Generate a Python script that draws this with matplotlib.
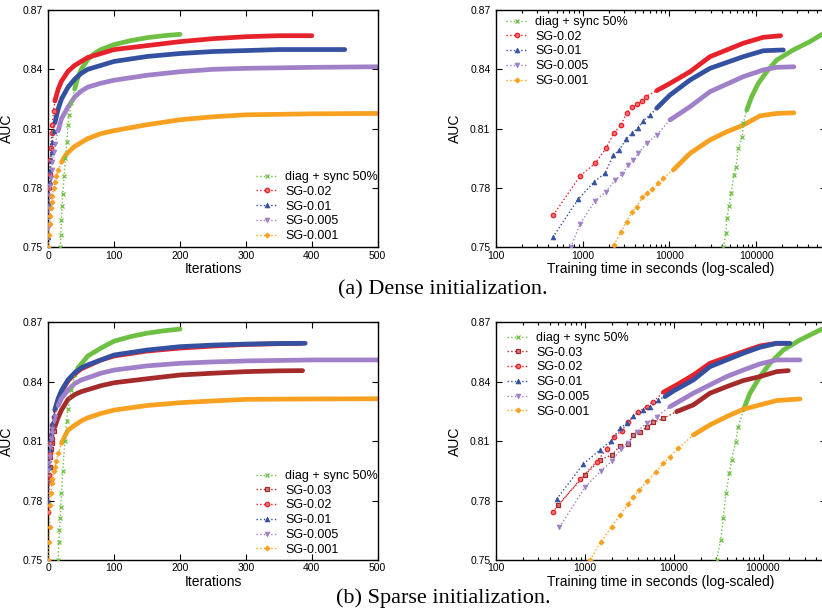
import matplotlib
matplotlib.use("Agg")
import matplotlib.pyplot as plt
from matplotlib.lines import Line2D
from matplotlib.ticker import LogLocator, NullFormatter, FixedLocator

# ---------------- data ----------------
ytick_vals = [0.75, 0.78, 0.81, 0.84, 0.87]
ytick_labels = ["0.75", "0.78", "0.81", "0.84", "0.87"]
iter_ticks = [0, 100, 200, 300, 400, 500]
time_ticks = [100, 1000, 10000, 100000]
time_tick_labels = ["100", "1000", "10000", "100000"]

labels_dense = ["diag + sync 50%", "SG-0.02", "SG-0.01", "SG-0.005", "SG-0.001"]
labels_sparse = ["diag + sync 50%", "SG-0.03", "SG-0.02", "SG-0.01", "SG-0.005", "SG-0.001"]

# (a) Dense initialization, AUC vs iterations
dense_it_green_x = [18, 19, 20, 21, 22, 24, 26, 28, 30, 32, 35, 40, 45, 50, 60, 70, 80, 100, 125, 150, 175, 200]
dense_it_green_y = [0.750, 0.756, 0.764, 0.771, 0.777, 0.786, 0.795, 0.803, 0.812, 0.817, 0.823, 0.830, 0.836, 0.840,
                    0.845, 0.848, 0.850, 0.8525, 0.8545, 0.856, 0.857, 0.8577]
dense_it_sg002_x = [0, 1, 2, 3, 4, 5, 6, 8, 10, 15, 20, 30, 40, 50, 60, 80, 100, 150, 200, 250, 300, 350, 400]
dense_it_sg002_y = [0.766, 0.780, 0.787, 0.794, 0.800, 0.808, 0.812, 0.819, 0.824, 0.830, 0.834, 0.839, 0.842, 0.844,
                    0.846, 0.848, 0.850, 0.852, 0.854, 0.8555, 0.8565, 0.857, 0.857]
dense_it_sg001_x = [0, 1, 2, 3, 4, 5, 6, 8, 10, 15, 20, 30, 40, 50, 60, 80, 100, 150, 200, 250, 300, 350, 400, 450]
dense_it_sg001_y = [0.755, 0.772, 0.783, 0.789, 0.794, 0.798, 0.803, 0.809, 0.813, 0.820, 0.825, 0.831, 0.835, 0.838,
                    0.840, 0.842, 0.844, 0.8465, 0.848, 0.849, 0.8495, 0.850, 0.850, 0.850]
dense_it_sg0005_x = [0, 1, 2, 3, 4, 5, 6, 8, 10, 15, 20, 30, 40, 50, 60, 80, 100, 150, 200, 250, 300, 400, 500]
dense_it_sg0005_y = [0.760, 0.770, 0.776, 0.781, 0.785, 0.789, 0.793, 0.798, 0.802, 0.809, 0.815, 0.821, 0.826, 0.829,
                     0.831, 0.833, 0.8345, 0.837, 0.8388, 0.840, 0.8405, 0.841, 0.8413]
dense_it_sg0001_x = [0, 1, 2, 3, 4, 5, 6, 8, 10, 12, 15, 20, 25, 30, 40, 50, 60, 80, 100, 150, 200, 250, 300, 400, 500]
dense_it_sg0001_y = [0.750, 0.756, 0.762, 0.766, 0.770, 0.773, 0.776, 0.780, 0.783, 0.786, 0.789, 0.793, 0.796, 0.798,
                     0.801, 0.803, 0.805, 0.8075, 0.809, 0.812, 0.8145, 0.816, 0.817, 0.8175, 0.8177]

# (a) Dense initialization, AUC vs training time (s)
dense_t_green_x = [41900, 45000, 45800, 49100, 51400, 55600, 58600, 62400, 69300, 71200, 78000, 89000, 106000,
                   132500, 172600, 268500, 418000, 575000]
dense_t_green_y = [0.750, 0.757, 0.7646, 0.7709, 0.7776, 0.7865, 0.7907, 0.800, 0.8059, 0.8127, 0.8194, 0.8262,
                   0.8329, 0.8388, 0.8447, 0.8498, 0.854, 0.8577]
dense_t_sg002_x = [458, 931, 1387, 1857, 2297, 2766, 3213, 3733, 4266, 4868, 5327, 7135, 10160, 17290, 29400,
                   71200, 121000, 192000]
dense_t_sg002_y = [0.7663, 0.786, 0.7924, 0.800, 0.808, 0.8118, 0.818, 0.821, 0.8223, 0.824, 0.8262, 0.8292,
                   0.8329, 0.8388, 0.8464, 0.8532, 0.8562, 0.857]
dense_t_sg001_x = [451, 889, 1360, 1807, 2254, 2644, 3162, 3675, 4306, 5000, 5973, 7130, 10160, 17290, 29400,
                   71200, 121000, 206000]
dense_t_sg001_y = [0.755, 0.7744, 0.7832, 0.7874, 0.7965, 0.7992, 0.8046, 0.8076, 0.8102, 0.814, 0.8169, 0.8203,
                   0.827, 0.8346, 0.8405, 0.8464, 0.8494, 0.8498]
dense_t_sg0005_x = [727, 931, 1387, 1857, 2360, 2866, 3360, 3836, 4378, 5470, 7130, 10160, 17290, 29400, 71200,
                    121000, 172600, 273000]
dense_t_sg0005_y = [0.750, 0.7617, 0.7734, 0.7781, 0.784, 0.787, 0.7916, 0.7941, 0.7975, 0.8026, 0.8068, 0.8144,
                    0.8211, 0.8287, 0.8363, 0.8397, 0.841, 0.8413]
dense_t_sg0001_x = [2297, 2742, 3213, 3675, 4194, 4868, 5560, 6250, 7450, 8510, 11100, 17290, 29400, 45800, 71200,
                    111000, 172600, 273000]
dense_t_sg0001_y = [0.7511, 0.7576, 0.763, 0.7677, 0.7705, 0.7753, 0.7776, 0.7793, 0.7823, 0.7849, 0.7891, 0.7975,
                    0.8043, 0.8084, 0.8118, 0.8165, 0.8177, 0.818]

# (b) Sparse initialization, AUC vs iterations
sparse_it_green_x = [15, 16, 17, 18, 19, 20, 22, 25, 28, 30, 35, 40, 45, 50, 60, 70, 80, 100, 125, 150, 175, 200]
sparse_it_green_y = [0.750, 0.759, 0.765, 0.771, 0.777, 0.784, 0.795, 0.810, 0.820, 0.826, 0.836, 0.843, 0.847,
                     0.849, 0.853, 0.855, 0.857, 0.8605, 0.8628, 0.8645, 0.8657, 0.8666]
sparse_it_sg003_x = [0, 1, 2, 3, 4, 5, 6, 8, 10, 15, 20, 30, 40, 50, 60, 80, 100, 150, 200, 250, 300, 350, 386]
sparse_it_sg003_y = [0.778, 0.790, 0.797, 0.802, 0.806, 0.809, 0.811, 0.815, 0.8173, 0.822, 0.8257, 0.8311, 0.8335,
                     0.835, 0.836, 0.838, 0.8395, 0.8415, 0.8434, 0.8443, 0.8451, 0.8455, 0.8456]
sparse_it_sg002_x = [0, 1, 2, 3, 4, 5, 6, 8, 10, 15, 20, 30, 40, 50, 60, 80, 100, 150, 200, 250, 300, 350, 385]
sparse_it_sg002_y = [0.774, 0.793, 0.804, 0.809, 0.813, 0.816, 0.818, 0.822, 0.8255, 0.831, 0.835, 0.8405, 0.844,
                     0.8465, 0.848, 0.851, 0.853, 0.8555, 0.857, 0.858, 0.8588, 0.8592, 0.8594]
sparse_it_sg001_x = [0, 1, 2, 3, 4, 5, 6, 8, 10, 15, 20, 30, 40, 50, 60, 80, 100, 150, 200, 250, 300, 350, 390]
sparse_it_sg001_y = [0.780, 0.797, 0.806, 0.811, 0.814, 0.817, 0.819, 0.823, 0.826, 0.8315, 0.8355, 0.841, 0.8445,
                     0.847, 0.8485, 0.851, 0.8535, 0.856, 0.8577, 0.8585, 0.859, 0.8593, 0.8594]
sparse_it_sg0005_x = [0, 1, 2, 3, 4, 5, 6, 8, 10, 15, 20, 30, 40, 50, 60, 80, 100, 150, 200, 250, 300, 400, 500]
sparse_it_sg0005_y = [0.7954, 0.799, 0.8022, 0.807, 0.811, 0.814, 0.816, 0.820, 0.8224, 0.828, 0.8316, 0.8358,
                      0.839, 0.8409, 0.842, 0.8443, 0.8459, 0.848, 0.8493, 0.850, 0.8505, 0.851, 0.851]
sparse_it_sg0001_x = [0, 1, 2, 3, 4, 5, 6, 8, 10, 12, 15, 20, 25, 30, 40, 50, 60, 80, 100, 150, 200, 250, 300, 400, 500]
sparse_it_sg0001_y = [0.750, 0.7593, 0.7668, 0.7778, 0.784, 0.7887, 0.791, 0.795, 0.7971, 0.800, 0.8039, 0.8089,
                      0.8125, 0.8156, 0.818, 0.8202, 0.8218, 0.824, 0.8257, 0.828, 0.8294, 0.8303, 0.8311, 0.8313,
                      0.8314]

# (b) Sparse initialization, AUC vs training time (s)
sparse_t_green_x = [30300, 33650, 36060, 38640, 42170, 44790, 49660, 53200, 60500, 71900, 93300, 120800, 170600,
                    263000, 464000]
sparse_t_green_y = [0.750, 0.7601, 0.7711, 0.7837, 0.7938, 0.8005, 0.8098, 0.8173, 0.8257, 0.8342, 0.8426, 0.8493,
                    0.856, 0.8611, 0.8666]
sparse_t_sg003_x = [502, 1003, 1479, 2000, 2483, 3080, 3447, 4167, 4955, 5890, 7630, 10770, 16600, 25500, 39300,
                    60500, 93300, 143600, 194000]
sparse_t_sg003_y = [0.7778, 0.793, 0.8005, 0.803, 0.8076, 0.8084, 0.8131, 0.8148, 0.817, 0.8195, 0.8215, 0.8249,
                    0.8283, 0.8342, 0.8375, 0.8406, 0.8426, 0.8451, 0.8456]
sparse_t_sg002_x = [434, 881, 1355, 1757, 2124, 2612, 3080, 3994, 4955, 5890, 7630, 10770, 16600, 25500, 60500,
                    93300, 143600, 186000]
sparse_t_sg002_y = [0.7741, 0.7907, 0.7997, 0.8059, 0.8123, 0.8153, 0.8199, 0.8249, 0.8274, 0.830, 0.8347, 0.8384,
                    0.8434, 0.8493, 0.8552, 0.8581, 0.8594, 0.8594]
sparse_t_sg001_x = [481, 960, 1479, 1967, 2483, 2951, 3508, 4545, 5400, 6700, 7960, 9890, 16600, 25500, 60500,
                    93300, 143600, 202800]
sparse_t_sg001_y = [0.7807, 0.7985, 0.8056, 0.8101, 0.8165, 0.819, 0.8227, 0.8257, 0.8271, 0.8308, 0.8325, 0.8353,
                    0.8409, 0.8476, 0.8544, 0.8574, 0.8594, 0.8594]
sparse_t_sg0005_x = [516, 1003, 1517, 2037, 2549, 3080, 3820, 4955, 6410, 9060, 16600, 25500, 39300, 60500, 93300,
                     143600, 263000]
sparse_t_sg0005_y = [0.7665, 0.7867, 0.7951, 0.8002, 0.8059, 0.8089, 0.8148, 0.819, 0.8224, 0.8274, 0.8342, 0.8384,
                     0.8426, 0.8459, 0.849, 0.851, 0.851]
sparse_t_sg0001_x = [1141, 1503, 2000, 2483, 3080, 3508, 4093, 5040, 6250, 7630, 9060, 11240, 16600, 25500, 39300,
                     60500, 93300, 143600, 263000]
sparse_t_sg0001_y = [0.750, 0.7589, 0.7669, 0.7727, 0.7783, 0.782, 0.7854, 0.7899, 0.7943, 0.7988, 0.8022, 0.8064,
                     0.8131, 0.8182, 0.8224, 0.8261, 0.8283, 0.8305, 0.8313]

# ---------------- style ----------------
C_GREEN = "#6ec044"
C_RED = "#e8222a"
C_BLUE = "#3450a0"
C_PURPLE = "#a080c8"
C_ORANGE = "#f8a020"
C_DRED = "#a52a2a"

STY = {
    "diag + sync 50%": dict(color=C_GREEN, marker="x", ms=3, mew=0.9, mfc=C_GREEN),
    "SG-0.03": dict(color=C_DRED, marker="s", ms=3.0, mew=0.9, mfc="#d08080"),
    "SG-0.02": dict(color=C_RED, marker="o", ms=3.2, mew=0.9, mfc="#f07070"),
    "SG-0.01": dict(color=C_BLUE, marker="^", ms=3.5, mew=0.5, mfc=C_BLUE),
    "SG-0.005": dict(color=C_PURPLE, marker="v", ms=3.5, mew=0.5, mfc=C_PURPLE),
    "SG-0.001": dict(color=C_ORANGE, marker="D", ms=2.7, mew=0.5, mfc=C_ORANGE),
}

plt.rcParams['font.family'] = ['Liberation Sans', 'DejaVu Sans']

W, H = 822, 615
fig = plt.figure(figsize=(W / 100, H / 100), dpi=100)


def ax_at(l, r, t, b):
    return fig.add_axes([l / W, 1 - b / H, (r - l) / W, (b - t) / H])


def draw(ax, x, y, label, band_from):
    s = STY[label]
    k = len(x)
    for i, xi in enumerate(x):
        if xi >= band_from:
            k = i
            break
    # dense part: thick band of overlapping markers
    if k < len(x) - 1:
        ax.plot(x[k:], y[k:], color=s["color"], lw=3.4, solid_capstyle="round", zorder=2)
    # sparse part: dotted line with individual markers
    ax.plot(x[:k + 1], y[:k + 1], color=s["color"], ls=":", lw=1.0, zorder=3)
    ax.plot(x[:k], y[:k], ls="none", marker=s["marker"], ms=s["ms"],
            mew=s["mew"], mfc=s["mfc"], mec=s["color"], zorder=3)


def style_axes(ax, logx):
    ax.set_ylim(0.75, 0.87)
    ax.set_yticks(ytick_vals)
    ax.set_yticklabels(ytick_labels)
    ax.tick_params(which="both", direction="in", top=True, right=True, labelsize=7.5, width=0.8)
    ax.tick_params(which="major", length=4)
    ax.tick_params(axis="y", pad=4)
    ax.tick_params(axis="x", pad=2.5)
    ax.tick_params(which="minor", length=2.2)
    for sp in ax.spines.values():
        sp.set_linewidth(1.0)
    ax.set_ylabel("AUC", fontsize=10, labelpad=6)
    if logx:
        ax.set_xscale("log")
        ax.xaxis.set_major_locator(FixedLocator(time_ticks))
        ax.set_xticklabels(time_tick_labels)
        ax.xaxis.set_minor_locator(LogLocator(base=10, subs=[2, 3, 4, 5, 6, 7, 8, 9], numticks=20))
        ax.xaxis.set_minor_formatter(NullFormatter())
        ax.set_xlabel("Training time in seconds (log-scaled)", fontsize=10, labelpad=1)
    else:
        ax.set_xlim(0, 500)
        ax.set_xticks(iter_ticks)
        ax.set_xlabel("Iterations", fontsize=10, labelpad=1)


def legend(ax, labels, px, py):
    handles = []
    for lb in labels:
        s = STY[lb]
        handles.append(Line2D([], [], color=s["color"], ls=":", lw=1.0, marker=s["marker"], ms=s["ms"],
                              mew=s["mew"], mfc=s["mfc"], mec=s["color"]))
    ax.legend(handles, labels, loc="upper left", bbox_to_anchor=(px / W, 1 - py / H),
              bbox_transform=fig.transFigure, frameon=False, fontsize=9, borderpad=0,
              handlelength=1.75, handletextpad=0.6, labelspacing=0.22, borderaxespad=0)


# (a) dense, iterations
ax1 = ax_at(48.3, 377.7, 10, 247.3)
draw(ax1, dense_it_green_x, dense_it_green_y, "diag + sync 50%", 36)
draw(ax1, dense_it_sg002_x, dense_it_sg002_y, "SG-0.02", 10)
draw(ax1, dense_it_sg001_x, dense_it_sg001_y, "SG-0.01", 10)
draw(ax1, dense_it_sg0005_x, dense_it_sg0005_y, "SG-0.005", 15)
draw(ax1, dense_it_sg0001_x, dense_it_sg0001_y, "SG-0.001", 20)
style_axes(ax1, False)
legend(ax1, labels_dense, 256, 171)

# (a) dense, time
ax2 = ax_at(496, 826, 10, 247.3)
draw(ax2, dense_t_green_x, dense_t_green_y, "diag + sync 50%", 75000)
draw(ax2, dense_t_sg002_x, dense_t_sg002_y, "SG-0.02", 7000)
draw(ax2, dense_t_sg001_x, dense_t_sg001_y, "SG-0.01", 7000)
draw(ax2, dense_t_sg0005_x, dense_t_sg0005_y, "SG-0.005", 9000)
draw(ax2, dense_t_sg0001_x, dense_t_sg0001_y, "SG-0.001", 10000)
style_axes(ax2, True)
ax2.set_xlim(100, 10 ** (2 + 330 / 86.7))
legend(ax2, labels_dense, 506, 16)

# (b) sparse, iterations
ax3 = ax_at(48.3, 377.7, 322.3, 560)
draw(ax3, sparse_it_green_x, sparse_it_green_y, "diag + sync 50%", 36)
draw(ax3, sparse_it_sg003_x, sparse_it_sg003_y, "SG-0.03", 10)
draw(ax3, sparse_it_sg002_x, sparse_it_sg002_y, "SG-0.02", 10)
draw(ax3, sparse_it_sg001_x, sparse_it_sg001_y, "SG-0.01", 10)
draw(ax3, sparse_it_sg0005_x, sparse_it_sg0005_y, "SG-0.005", 12)
draw(ax3, sparse_it_sg0001_x, sparse_it_sg0001_y, "SG-0.001", 20)
style_axes(ax3, False)
legend(ax3, labels_sparse, 256, 470)

# (b) sparse, time
ax4 = ax_at(496, 826, 322.3, 560)
draw(ax4, sparse_t_green_x, sparse_t_green_y, "diag + sync 50%", 60000)
draw(ax4, sparse_t_sg003_x, sparse_t_sg003_y, "SG-0.03", 9000)
draw(ax4, sparse_t_sg002_x, sparse_t_sg002_y, "SG-0.02", 7000)
draw(ax4, sparse_t_sg001_x, sparse_t_sg001_y, "SG-0.01", 7000)
draw(ax4, sparse_t_sg0005_x, sparse_t_sg0005_y, "SG-0.005", 9000)
draw(ax4, sparse_t_sg0001_x, sparse_t_sg0001_y, "SG-0.001", 12000)
style_axes(ax4, True)
ax4.set_xlim(100, 10 ** (2 + 330 / 88.9))
legend(ax4, labels_sparse, 507, 332)

fig.text(443 / W, 1 - 290 / H, "(a) Dense initialization.", ha="center", va="center",
         fontsize=16, family=["Liberation Serif", "DejaVu Serif"])
fig.text(443 / W, 1 - 598 / H, "(b) Sparse initialization.", ha="center", va="center",
         fontsize=16, family=["Liberation Serif", "DejaVu Serif"])

fig.savefig("out.png", dpi=100)
